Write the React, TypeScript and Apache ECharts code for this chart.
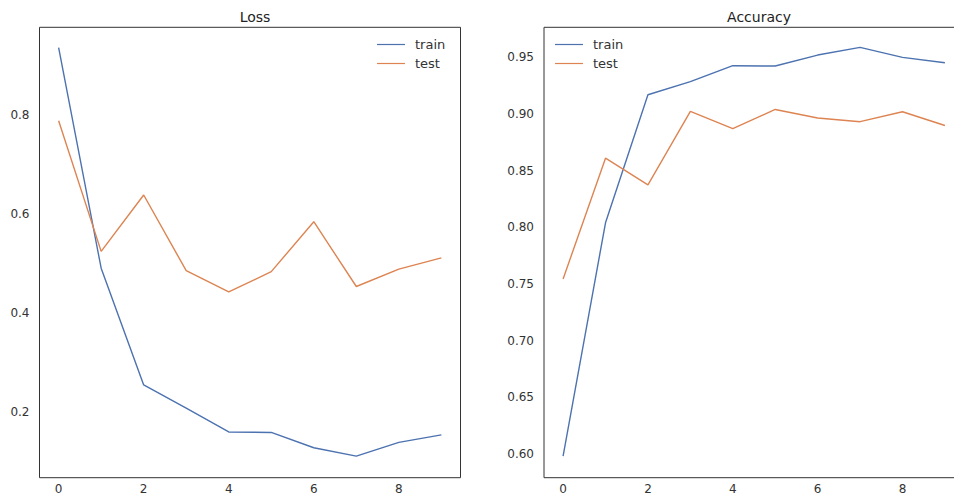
import React, { useEffect, useRef } from "react";
import * as echarts from "echarts";

const epochs = [0, 1, 2, 3, 4, 5, 6, 7, 8, 9];
const lossTrain = [0.936, 0.49, 0.254, 0.207, 0.159, 0.158, 0.127, 0.11, 0.138, 0.153];
const lossTest = [0.788, 0.524, 0.638, 0.485, 0.442, 0.483, 0.584, 0.453, 0.488, 0.511];
const accTrain = [0.598, 0.804, 0.917, 0.9285, 0.9426, 0.9423, 0.952, 0.9588, 0.95, 0.9452];
const accTest = [0.7544, 0.861, 0.8374, 0.9023, 0.887, 0.904, 0.8965, 0.8932, 0.902, 0.8898];
const xTicks = [0, 2, 4, 6, 8];
const lossTicks = [0.2, 0.4, 0.6, 0.8];
const accTicks = [0.6, 0.65, 0.7, 0.75, 0.8, 0.85, 0.9, 0.95];
const titles = ["Loss", "Accuracy"];

const BLUE = "#4c72b0";
const ORANGE = "#dd8452";
const FONT = "DejaVu Sans";

export default function App() {
  const ref = useRef<HTMLDivElement>(null);
  useEffect(() => {
    if (!ref.current) return;
    const chart = echarts.init(ref.current, undefined, { renderer: "svg" });
    const pairs = (ys: number[]) => epochs.map((x, i) => [x, ys[i]]);
    const xAxisBase = (gridIndex: number) => ({
      type: "value",
      gridIndex,
      min: -0.45,
      max: 9.45,
      axisLine: { show: false },
      axisTick: { show: false },
      splitLine: { show: false },
      axisLabel: {
        customValues: xTicks,
        color: "#333",
        fontFamily: FONT,
        fontSize: 12,
        margin: 5,
        lineHeight: 13,
      },
    });
    const grid = (left: number, width: number) => ({
      left,
      width,
      top: 27.3,
      height: 450.4,
      show: true,
      borderColor: "#333",
      borderWidth: 1,
      backgroundColor: "#fff",
      outerBoundsMode: "none",
      containLabel: false,
    });
    const lineSeries = (name: string, data: number[], idx: number, color: string) => ({
      type: "line",
      name,
      xAxisIndex: idx,
      yAxisIndex: idx,
      data: pairs(data),
      symbol: "none",
      showSymbol: false,
      lineStyle: { color, width: 1.4 },
      itemStyle: { color },
    });
    const legend = (left: number) => ({
      data: ["train", "test"],
      orient: "vertical",
      left,
      top: 33,
      itemWidth: 28,
      itemHeight: 14,
      itemGap: 6,
      icon: "path://M0,6.4L28,6.4L28,7.6L0,7.6Z",
      textStyle: { color: "#333", fontFamily: FONT, fontSize: 13, padding: [0, 0, 0, 5] },
    });
    const titleStyle = { color: "#222", fontFamily: FONT, fontSize: 14, fontWeight: "normal" };
    chart.setOption({
      animation: false,
      backgroundColor: "#fff",
      title: [
        { text: titles[0], left: 250, top: 5, textAlign: "center", textStyle: titleStyle },
        { text: titles[1], left: 754, top: 5, textAlign: "center", textStyle: titleStyle },
      ],
      legend: [legend(372), legend(550)],
      grid: [grid(39.5, 421), grid(544, 420)],
      xAxis: [xAxisBase(0), xAxisBase(1)],
      yAxis: [
        {
          type: "value",
          gridIndex: 0,
          min: 0.0665,
          max: 0.977,
          axisLine: { show: false },
          axisTick: { show: false },
          splitLine: { show: false },
          axisLabel: {
            customValues: lossTicks,
            formatter: (v: number) => v.toFixed(1),
            color: "#333",
            fontFamily: FONT,
            fontSize: 12,
            margin: 10,
          },
        },
        {
          type: "value",
          gridIndex: 1,
          min: 0.579,
          max: 0.9765,
          axisLine: { show: false },
          axisTick: { show: false },
          splitLine: { show: false },
          axisLabel: {
            customValues: accTicks,
            formatter: (v: number) => v.toFixed(2),
            color: "#333",
            fontFamily: FONT,
            fontSize: 12,
            margin: 10,
          },
        },
      ],
      series: [
        lineSeries("train", lossTrain, 0, BLUE),
        lineSeries("test", lossTest, 0, ORANGE),
        lineSeries("train", accTrain, 1, BLUE),
        lineSeries("test", accTest, 1, ORANGE),
      ],
    });
    return () => chart.dispose();
  }, []);
  return (
    <div
      ref={ref}
      style={{ position: "fixed", left: 0, top: 0, width: 954, height: 496, background: "#fff" }}
    />
  );
}
